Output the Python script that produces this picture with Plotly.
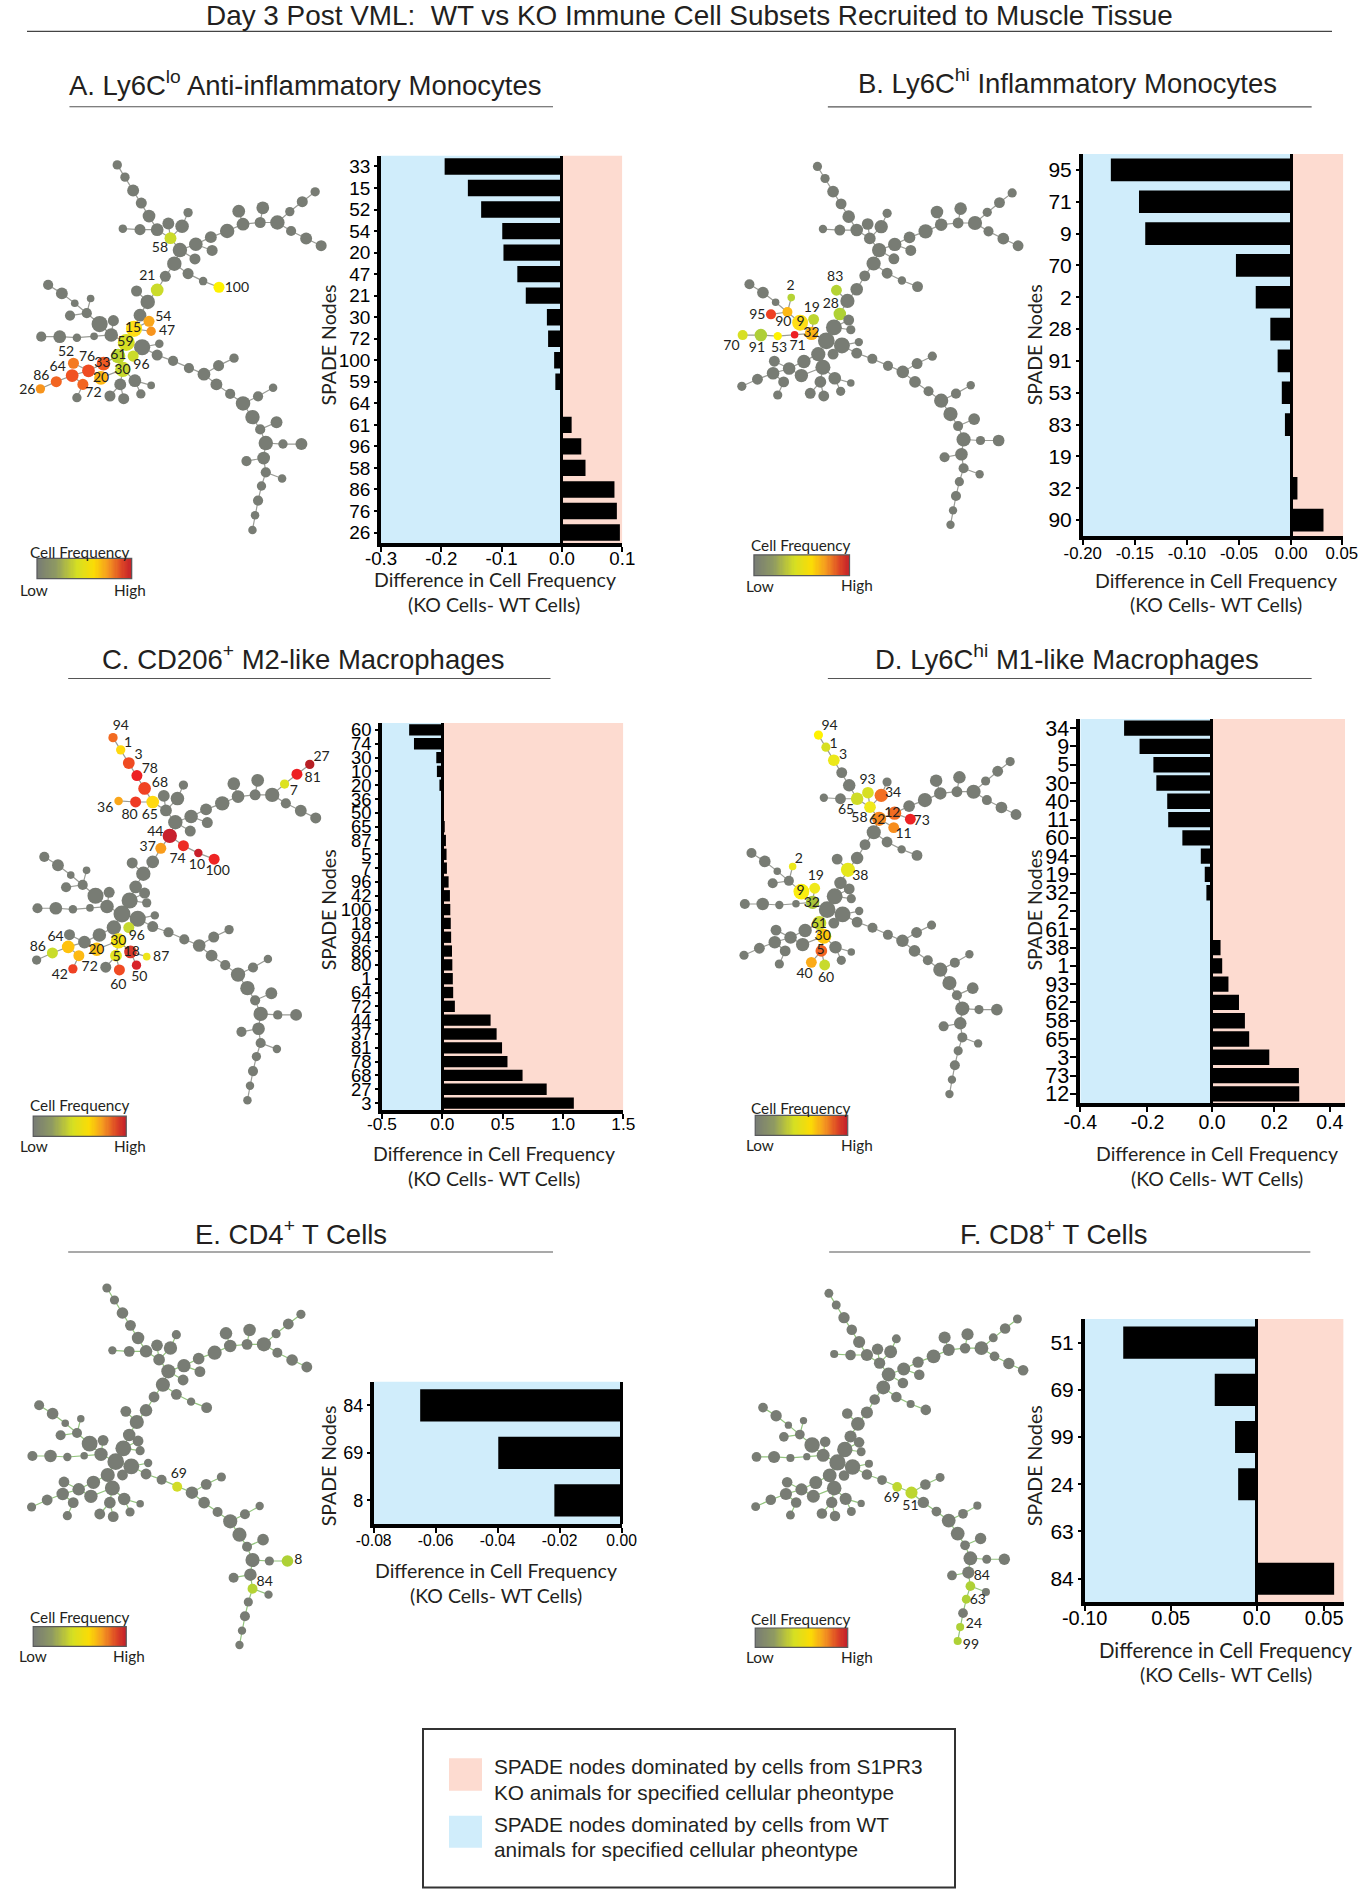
import numpy as np
import plotly.graph_objects as go

W, H = 1358, 1889
GRAY = "#787c74"
BLUE = "#d0edfb"
PINK = "#fddbd0"
ARIAL = "Liberation Sans"
MYRIAD = "Lato"

# ---------- bar data ----------
A_NODES = ["33","15","52","54","20","47","21","30","72","100","59","64","61","96","58","86","76","26"]
A_VALUES = [-.1945,-.156,-.134,-.099,-.097,-.074,-.06,-.025,-.023,-.013,-.011,0,.016,.032,.039,.087,.091,.096]
B_NODES = ["95","71","9","70","2","28","91","53","83","19","32","90"]
B_VALUES = [-.173,-.146,-.14,-.053,-.034,-.02,-.013,-.009,-.006,0,.006,.031]
C_NODES = ["60","74","30","10","20","36","50","65","87","5","7","96","42","100","18","94","86","80","1","64","72","44","37","81","78","68","27","3"]
C_VALUES = [-.275,-.235,-.05,-.045,-.024,-.004,.003,.02,.03,.035,.038,.052,.063,.066,.07,.073,.08,.083,.087,.09,.104,.40,.45,.495,.54,.665,.865,1.09]
D_NODES = ["34","9","5","30","40","11","60","94","19","32","2","61","38","1","93","62","58","65","3","73","12"]
D_VALUES = [-.267,-.22,-.178,-.169,-.136,-.133,-.09,-.034,-.022,-.017,-.005,-.001,.026,.031,.05,.082,.1,.113,.174,.264,.265]
E_NODES = ["84","69","8"]
E_VALUES = [-.065,-.0398,-.0217]
F_NODES = ["51","69","99","24","63","84"]
F_VALUES = [-.0776,-.0244,-.0126,-.0108,0,.045]

# ---------- SPADE tree (shared layout) ----------
NODE_IDS = ["94","1","3","78","68","36","80","65","93","34","a1","58","62","12","73","a2","11","44","74","10","100","37","21","83","38",
            "r1","r2","r3","r4","r5","r6","7","81","27","r7","r8","r9",
            "l1","l2","l3","2","90","95","9","19","32","71","53","91","70",
            "28","54","47","15","59","c0","c1","c2","c3","61","96","30","33","20","76","52","64","72","86","26","42","40","60","5","18","50","87",
            "69","51","b1","b2","b3","b4","b5","b6","b7","b8","b9","b10","b11","b12","8","b13","b14","84","b15","63","b16","24","99"]
NODE_X = [254,272,291,310,328,267,307,347,373,405,419,378,400,437,475,472,435,387,419,454,491,366,347,299,325,
          510,547,587,627,537,593,656,685,715,659,694,729,
          93,125,155,192,183,144,213,245,240,200,160,120,77,
          307,328,333,293,275,312,352,347,384,256,291,267,222,216,187,152,149,174,112,75,160,237,269,261,295,309,333,
          421,456,490,526,485,517,547,582,617,569,587,625,600,640,683,595,555,600,638,590,582,575,569]
NODE_Y = [234,270,309,346,384,421,424,424,406,414,374,449,484,467,485,446,510,524,553,575,593,561,601,604,636,
          428,408,403,403,370,360,371,342,313,428,450,471,
          586,611,640,626,669,676,701,691,733,737,741,738,738,
          675,693,722,715,755,769,759,792,809,795,795,834,817,859,838,816,852,878,870,891,917,912,920,878,867,906,881,
          830,848,823,801,878,906,934,913,888,974,1010,989,1050,1053,1053,1094,1103,1136,1154,1176,1219,1262,1305]
NODE_D = [22,22,28,26,30,20,26,30,28,32,22,28,34,32,26,28,26,34,26,20,26,26,30,26,34,
          34,30,26,34,30,30,22,26,22,24,28,26,
          24,28,18,18,24,24,38,26,32,18,20,30,24,
          30,26,22,38,40,38,20,26,24,34,26,36,32,32,30,26,30,26,26,22,22,26,26,28,30,22,18,
          24,30,26,22,28,24,34,24,20,34,24,28,34,22,28,30,24,24,20,22,24,20,20]
CHAINS = [["94","1","3","78","68","65","58"],["36","80","65"],["58","93"],["58","34","a1"],["58","62","44"],["62","12","a2","r1","r2","r3","r4","7","81","27"],
          ["12","73"],["62","11"],["r2","r5"],["r3","r6"],["r4","r7","r8","r9"],["44","74","10","100"],["44","37","21","38","28","15","59"],["83","38"],
          ["l1","l2","l3","90","9","32"],["2","90"],["95","90"],["19","32"],["70","91","53","71","32","59"],["15","54"],["15","47"],
          ["59","c0","c1"],["c0","c2","c3","69","51","b1","b2"],["51","b3","b4","b5","b6","b7"],["b5","b8","b9","b10"],["b9","b11","b12","8"],
          ["b11","b13","b14"],["b13","84","b15"],["84","63","b16","24","99"],["59","61","30"],["c0","96"],["61","33","76"],["76","52"],["30","20","76","64","86","26"],
          ["64","72","42"],["30","5","40"],["5","60"],["30","18","50"],["18","87"]]

# node colours per panel
A_COL = {"58":"#cbdb2a","21":"#cbdb2a","100":"#fff200","54":"#faa61a","47":"#f7941d","15":"#ffde17","59":"#d7df23","61":"#bdd630","96":"#cbdb2a","30":"#c7d82e",
         "33":"#f15a22","20":"#fdb813","76":"#ef4b22","52":"#f47920","64":"#f05323","72":"#f26522","86":"#f26522","26":"#f7941d"}
B_COL = {"83":"#b5d334","2":"#b5d334","28":"#afd135","19":"#bdd630","9":"#ffde17","90":"#fdb813","95":"#ee4123","32":"#fbb415","70":"#d7df23","91":"#aecf38","53":"#fff200","71":"#ed2024"}
C_COL = {"94":"#f26a21","1":"#ffd90f","3":"#ef4b22","78":"#ed2024","68":"#f04323","36":"#faa61a","80":"#ef3b24","65":"#ffd90f","7":"#dde21f","81":"#ed2024","27":"#b71f24",
         "44":"#c8202d","37":"#f99d1c","74":"#ed2c24","10":"#c8202a","100":"#ee2524","96":"#c6d92f","30":"#f2e011","20":"#fdc010","64":"#ffc20e","72":"#fdb913","86":"#c9dc2a",
         "5":"#e3e41f","18":"#d9392b","87":"#eee51b","60":"#f04b23","50":"#d8232a","42":"#ef4123"}
D_COL = {"94":"#fff200","1":"#d7df23","3":"#ece81a","93":"#d7df23","34":"#f36f21","65":"#cfdc28","58":"#f0e91a","62":"#f6861f","12":"#f26c22","73":"#ed2224","11":"#f78e1e",
         "38":"#e6e71c","2":"#ece81a","19":"#f0e91a","9":"#fbed0e","32":"#a8c43a","61":"#c8d62e","30":"#fdc60b","5":"#f26522","40":"#fbab18","60":"#c8da2c"}
E_COL = {"69":"#d2dc27","84":"#b5d334","8":"#aed136"}
F_COL = {"69":"#bfd730","51":"#bdd630","84":"#aed136","63":"#aed136","24":"#aed136","99":"#aed136"}

# node label anchors per panel (zoom units inside that panel's frame)
A_LAB = [("58",380,629),("21",350,699),("100",563,730),("54",388,802),("47",397,839),("15",316,832),("59",298,866),("61",281,900),("96",336,924),("30",291,937),
         ("33",243,919),("20",240,957),("76",207,905),("52",157,892),("64",137,930),("86",98,952),("26",65,988),("72",222,995)]
B_LAB = [("83",359,630),("2",256,655),("19",305,714),("28",349,702),("95",179,732),("90",239,750),("9",279,750),("32",304,780),("70",119,814),("91",178,820),("53",229,819),("71",272,814)]
C_LAB = [("94",287,261),("1",304,306),("3",329,340),("78",356,376),("68",380,416),("27",764,345),("81",743,402),("7",698,437),("36",250,482),("80",308,502),("65",356,502),
         ("44",369,548),("37",351,587),("74",422,621),("10",468,637),("100",517,654),("96",325,828),("64",132,832),("86",90,858),("30",281,843),("20",229,865),("18",313,871),
         ("5",277,885),("87",383,884),("72",213,911),("42",142,933),("50",331,940),("60",281,960)]
D_LAB = [("94",346,262),("1",355,309),("3",377,340),("93",434,406),("34",493,443),("65",384,487),("58",415,509),("62",456,514),("12",491,495),("73",559,517),("11",517,553),
         ("2",275,619),("38",417,665),("19",314,665),("9",279,708),("32",305,739),("61",321,795),("30",330,829),("5",325,867),("40",288,930),("60",338,943)]
E_LAB = [("69",425,794),("8",709,1051),("84",629,1116)]
F_LAB = [("69",490,865),("51",533,890),("84",698,1100),("63",689,1172),("24",680,1243),("99",673,1305)]

# Panel text/rule/key coordinates are in "zoom units /3"; f gives the real zoom factors. box = plot area in page px.
PANELS = [
 dict(key="A", nodes=A_NODES, vals=A_VALUES, col=A_COL, lab=A_LAB, org=(0,0), f=(2.376,2.529), tf=(96,1.02,417,.862), s=1.02, edge="#9a9c96",
      box=(381,622.3,155.7,543.3), rng=(-.3,.1), tv=[-.3,-.2,-.1,0,.1], tt=["-0.3","-0.2","-0.1","0.0","0.1"], gap=.24, tfs=18.7, yfs=19, so=-9, yl=3, yso=0, atf=19.5,
      title="A. Ly6C<sup>lo</sup> Anti-inflammatory Monocytes", tc=(241.5,72.7), rule=(55,438,90),
      ax1=(391.7,488.7), ax2=(391,510), sn=(260.3,290.7),
      cb=(29.3,104.3,470.7,487.7), cbt=(63,465), low=(27,497), high=(103,497)),
 dict(key="B", nodes=B_NODES, vals=B_VALUES, col=B_COL, lab=B_LAB, org=(680,40), f=(2.313,2.657), tf=(143,.977,336,.889), s=1.004, edge="#9a9c96",
      box=(1082.7,1343.3,154,536), rng=(-.2,.05), tv=[-.2,-.15,-.1,-.05,0,.0485], tt=["-0.20","-0.15","-0.10","-0.05","0.00","0.05"], gap=.29, tfs=16.8, yfs=21, so=-6, yl=3, yso=0, atf=19.5,
      title="B. Ly6C<sup>hi</sup> Inflammatory Monocytes", tc=(978.8,79.3), rule=(794,1167,99.3),
      ax1=(1093.3,518.3), ax2=(1093.3,540), sn=(953.3,310),
      cb=(737,810.7,496,514.3), cbt=(773.3,487), low=(742,524), high=(816.7,523)),
 dict(key="C", nodes=C_NODES, vals=C_VALUES, col=C_COL, lab=C_LAB, org=(0,630), f=(2.376,2.703), tf=(87,1.014,291,.915), s=1.015, edge="#9a9c96",
      box=(382,623.3,723,1110), rng=(-.5,1.5), tv=[-.5,0,.5,1,1.5], tt=["-0.5","0.0","0.5","1.0","1.5"], gap=.18, tfs=17.3, yfs=18.5, so=-10, yl=3, yso=0, atf=19.5,
      title="C. CD206<sup>+</sup> M2-like Macrophages", tc=(240.5,656.7), rule=(54,436,673.7),
      ax1=(391,1102), ax2=(391,1124.3), sn=(260,882.3),
      cb=(26.3,100,1068,1086.3), cbt=(63.3,1058), low=(27.3,1095), high=(103,1095)),
 dict(key="D", nodes=D_NODES, vals=D_VALUES, col=D_COL, lab=D_LAB, org=(680,630), f=(2.313,2.703), tf=(148,.962,284,.906), s=1.0, edge="#9a9c96",
      box=(1080.3,1345,719,1103), rng=(-.4,.404), tv=[-.4,-.196,0,.189,.358], tt=["-0.4","-0.2","0.0","0.2","0.4"], gap=.16, tfs=19.5, yfs=21.5, so=-6, yl=7, yso=-4, atf=19.5,
      title="D. Ly6C<sup>hi</sup> M1-like Macrophages", tc=(978.3,656.7), rule=(794,1167,673.7),
      ax1=(1093.7,1102), ax2=(1093.7,1124.3), sn=(953.3,882.3),
      cb=(738,809.3,1067.3,1085.3), cbt=(773,1060.7), low=(742,1094), high=(816.7,1094)),
 dict(key="E", nodes=E_NODES, vals=E_VALUES, col=E_COL, lab=E_LAB, org=(0,1210), f=(2.376,3), tf=(75,1,234,1), s=1.0, edge="#93c47d",
      box=(373.7,621.6,1381.7,1524), rng=(-.08,0), tv=[-.08,-.06,-.04,-.02,0], tt=["-0.08","-0.06","-0.04","-0.02","0.00"], gap=.32, tfs=15.7, yfs=18, so=-6, yl=3, yso=0, atf=19.5,
      title="E. CD4<sup>+</sup> T Cells", tc=(230.5,1235), rule=(54,438,1252),
      ax1=(392.7,1570.3), ax2=(392.7,1595.7), sn=(260.3,1465.7),
      cb=(26.3,100,1626.7,1646.3), cbt=(63.3,1617), low=(26,1656), high=(102,1656)),
 dict(key="F", nodes=F_NODES, vals=F_VALUES, col=F_COL, lab=F_LAB, org=(680,1210), f=(2.313,3), tf=(175,.946,250,.974), s=.973, edge="#93c47d",
      box=(1084.7,1343.6,1319,1602.3), rng=(-.1,.0505), tv=[-.1,-.05,0,.0392], tt=["-0.10","0.05","0.0","0.05"], gap=.32, tfs=20, yfs=21, so=-10, yl=3, yso=0, atf=20.4,
      title="F. CD8<sup>+</sup> T Cells", tc=(968,1235), rule=(795,1166,1252),
      ax1=(1100.7,1649.7), ax2=(1100.7,1674.3), sn=(953.3,1465.7),
      cb=(738,809.3,1628,1647.3), cbt=(773.3,1619), low=(742,1657), high=(816.7,1657)),
]

GRADIENT = [[0,"#787c74"],[.2,"#8f9a62"],[.42,"#d5df23"],[.6,"#fbdc05"],[.75,"#f59a20"],[.9,"#dc4526"],[1,"#c4202a"]]

fig = go.Figure()
shapes, annos = [], []
idx = {n:i for i,n in enumerate(NODE_IDS)}
NX, NY, ND = np.array(NODE_X,float), np.array(NODE_Y,float), np.array(NODE_D,float)

def txt(x, y, s, size, font=ARIAL, color="#231f20", angle=0):
    annos.append(dict(x=x, y=y, xref="x", yref="y", text=s, showarrow=False, xanchor="center", yanchor="middle",
                      textangle=angle, font=dict(family=font, size=size, color=color)))

layout_axes = {}
for n, p in enumerate(PANELS):
    ox, oy = p["org"]
    fx, fy = p["f"]
    X = lambda v: ox + (v-ox)*3/fx
    Y = lambda v: oy + (v-oy)*3/fy
    a, sx, b, sy = p["tf"]
    px = ox + (a + sx*(NX-75))/fx
    py = oy + (b + sy*(NY-234))/fy
    ex, ey = [], []
    for ch in CHAINS:
        ex += [px[idx[i]] for i in ch] + [None]
        ey += [py[idx[i]] for i in ch] + [None]
    fig.add_trace(go.Scatter(x=ex, y=ey, mode="lines", line=dict(color=p["edge"], width=1.2), hoverinfo="skip", showlegend=False, xaxis="x", yaxis="y"))
    fig.add_trace(go.Scatter(x=px, y=py, mode="markers", hoverinfo="skip", showlegend=False, xaxis="x", yaxis="y",
                             marker=dict(size=ND/2.4*p["s"], color=[p["col"].get(i, GRAY) for i in NODE_IDS], line=dict(width=0), opacity=1)))
    fig.add_trace(go.Scatter(x=[ox+l[1]/fx for l in p["lab"]], y=[oy+l[2]/fy for l in p["lab"]], text=[l[0] for l in p["lab"]],
                             mode="text", textposition="middle center", textfont=dict(family=MYRIAD, size=14, color="#231f20"),
                             hoverinfo="skip", showlegend=False, xaxis="x", yaxis="y"))

    # colour key
    c0, c1, c2, c3 = X(p["cb"][0]), X(p["cb"][1]), Y(p["cb"][2]), Y(p["cb"][3])
    fig.add_trace(go.Heatmap(x=np.linspace(c0, c1, 81), y=[c2, c3], z=[np.linspace(0, 1, 80)], colorscale=GRADIENT, zmin=0, zmax=1,
                             showscale=False, hoverinfo="skip", xaxis="x", yaxis="y"))
    shapes.append(dict(type="rect", xref="x", yref="y", x0=c0, x1=c1, y0=c2, y1=c3, line=dict(color="#58595b", width=1.2), layer="above"))
    txt(X(p["cbt"][0]), Y(p["cbt"][1]), "Cell Frequency", 15.3, MYRIAD)
    txt(X(p["low"][0]), Y(p["low"][1]), "Low", 15.3, MYRIAD)
    txt(X(p["high"][0]), Y(p["high"][1]), "High", 15.3, MYRIAD)

    # bars
    k = n + 2
    xa, ya = f"x{k}", f"y{k}"
    x0, x1, y0, y1 = p["box"]
    fig.add_trace(go.Bar(x=p["vals"], y=p["nodes"], orientation="h", marker=dict(color="#000000", line=dict(width=0)),
                         hoverinfo="skip", showlegend=False, xaxis=xa, yaxis=ya, base=0, width=1-p["gap"]))
    layout_axes[f"xaxis{k}"] = dict(domain=[x0/W, x1/W], anchor=ya, range=list(p["rng"]), tickmode="array", tickvals=p["tv"], ticktext=p["tt"], automargin=False,
                                    showgrid=False, zeroline=True, zerolinecolor="#000", zerolinewidth=3, showline=True, linecolor="#000", linewidth=3.5,
                                    ticks="outside", ticklen=5, tickwidth=2, tickcolor="#000", tickfont=dict(family=ARIAL, size=p["tfs"], color="#000"),
                                    tickangle=0, ticklabelstandoff=p["so"], ticklabeloverflow="allow")
    layout_axes[f"yaxis{k}"] = dict(domain=[1-y1/H, 1-y0/H], anchor=xa, type="category", range=[len(p["nodes"])-.5, -.5], tickmode="array", automargin=False,
                                    tickvals=p["nodes"], ticktext=p["nodes"], showgrid=False, zeroline=False, showline=True, linecolor="#000", linewidth=3.5,
                                    ticks="outside", ticklen=p["yl"], tickwidth=2, tickcolor="#000", tickfont=dict(family=ARIAL, size=p["yfs"], color="#000"),
                                    ticklabelstandoff=p["yso"])
    if p["rng"][0] < 0:
        shapes.append(dict(type="rect", xref=xa, yref=f"{ya} domain", x0=p["rng"][0], x1=0, y0=0, y1=1, fillcolor=BLUE, line=dict(width=0), layer="below"))
    if p["rng"][1] > 0:
        shapes.append(dict(type="rect", xref=xa, yref=f"{ya} domain", x0=0, x1=p["rng"][1], y0=0, y1=1, fillcolor=PINK, line=dict(width=0), layer="below"))

    # texts and rules
    txt(X(p["tc"][0]), Y(p["tc"][1])-2.4, p["title"], 27.5)
    r0, r1, ry = X(p["rule"][0]), X(p["rule"][1]), Y(p["rule"][2])
    shapes.append(dict(type="line", xref="x", yref="y", x0=r0, x1=r1, y0=ry, y1=ry, line=dict(color="#555", width=1.2)))
    txt(X(p["ax1"][0]), Y(p["ax1"][1]), "Difference in Cell Frequency", p["atf"], MYRIAD)
    txt(X(p["ax2"][0]), Y(p["ax2"][1]), "(KO Cells- WT Cells)", 19.5, MYRIAD)
    txt(X(p["sn"][0]), Y(p["sn"][1]), "SPADE Nodes", 19.5, MYRIAD, angle=-90)

# overall title
txt(689, 15, "Day 3 Post VML:  WT vs KO Immune Cell Subsets Recruited to Muscle Tissue", 27.9)
shapes.append(dict(type="line", xref="x", yref="y", x0=27, x1=1332, y0=31.3, y1=31.3, line=dict(color="#444", width=1.2)))

# bottom key
shapes.append(dict(type="rect", xref="x", yref="y", x0=423, x1=955, y0=1729, y1=1887.5, line=dict(color="#333", width=2)))
shapes.append(dict(type="rect", xref="x", yref="y", x0=449, x1=482, y0=1758.3, y1=1790.7, fillcolor=PINK, line=dict(width=0)))
shapes.append(dict(type="rect", xref="x", yref="y", x0=449, x1=482, y0=1815.7, y1=1847.7, fillcolor=BLUE, line=dict(width=0)))
KEY_LINES = [("SPADE nodes dominated by cells from S1PR3",1766.5),("KO animals for specified cellular pheontype",1792),
             ("SPADE nodes dominated by cells from WT",1824),("animals for specified cellular pheontype",1849)]
for s, y in KEY_LINES:
    annos.append(dict(x=492, y=y, xref="x", yref="y", text=s, showarrow=False, xanchor="left", yanchor="middle",
                      font=dict(family=ARIAL, size=20.8, color="#231f20")))

fig.update_layout(template="none", width=W, height=H, margin=dict(l=0, r=0, t=0, b=0, pad=0, autoexpand=False), plot_bgcolor="rgba(0,0,0,0)", paper_bgcolor="#fff",
                  showlegend=False, shapes=shapes, annotations=annos, barmode="overlay",
                  xaxis=dict(domain=[0,1], range=[0,W], visible=False, fixedrange=True, automargin=False),
                  yaxis=dict(domain=[0,1], range=[H,0], visible=False, fixedrange=True, automargin=False), **layout_axes)
fig.write_html("out.html", post_script="document.body.style.margin='0';", config={"displayModeBar": False})
